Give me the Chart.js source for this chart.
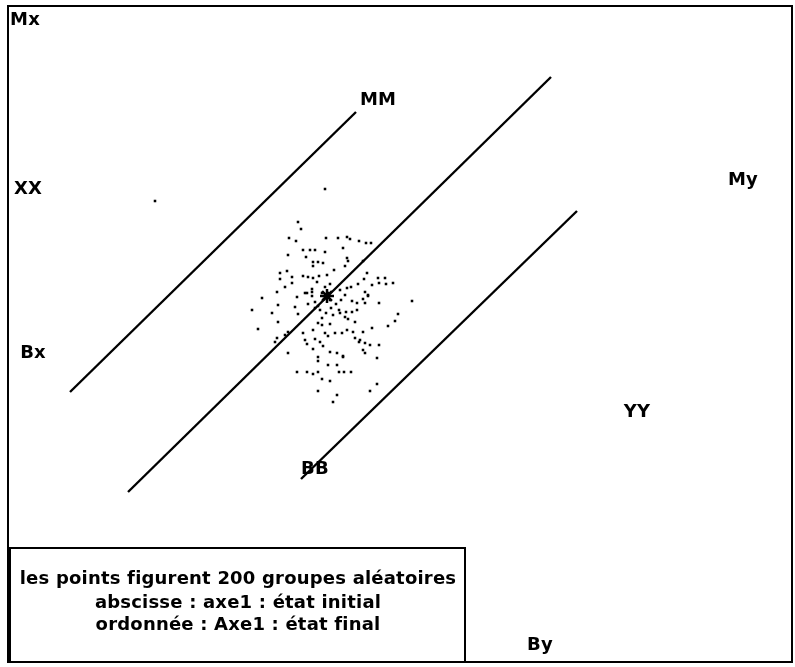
<!DOCTYPE html>
<html>
<head>
<meta charset="utf-8">
<script src="https://cdn.jsdelivr.net/npm/chart.js@4"></script>
<style>
  html, body { margin: 0; padding: 0; background: #fff; }
  #wrap { width: 795px; height: 667px; }
</style>
</head>
<body>
<div id="wrap"><canvas id="plot" width="795" height="667"></canvas></div>
<script>
// 200 random groups: axe1 initial (x) vs axe1 final (y), plot units
const ptX = [155,325,
  298,301,289,296,326,338,347,350,359,366,371,343,303,310,315,325,288,306,347,348,313,318,323,313,363,345,287,280,334,367,292,280,303,308,313,319,327,364,378,385,292,317,285,325,330,347,351,372,379,386,393,358,312,277,305,312,365,368,
  262,252,278,272,297,307,312,295,308,315,322,298,315,278,258,288,285,277,275,352,357,363,365,368,379,412,333,340,345,348,339,346,352,357,355,322,318,322,330,313,303,325,328,335,342,347,353,363,372,388,395,398,305,307,315,320,323,355,360,359,365,370,379,330,337,288,363,365,313,343,
  328,324,330,318,320,326,331,336,341,345,340,
  318,343,377,318,328,337,297,307,313,318,339,344,351,322,330,377,370,318,337,333];
const ptY = [201,189,
  222,229,238,241,238,238,237,239,241,243,243,248,250,250,250,252,255,257,258,261,262,262,263,266,261,266,271,273,270,273,277,279,276,277,278,276,275,279,278,278,283,282,287,287,284,288,287,285,283,284,283,284,289,292,293,292,292,296,
  298,310,305,313,297,293,296,307,304,302,293,314,308,322,329,332,335,338,342,301,303,299,303,295,303,301,315,313,317,319,310,312,312,310,322,318,323,325,324,330,333,333,336,333,333,330,332,332,328,326,321,314,340,344,339,342,346,338,340,342,343,345,345,352,353,353,350,353,349,356,
  293,299,300,306,310,313,308,304,300,295,290,
  357,357,358,361,365,365,372,372,374,372,372,372,372,379,381,384,391,391,395,402];

// center of the cloud
const centerX = [327];
const centerY = [296];

// reference lines (endpoints)
const lineMM = { x: [70, 356], y: [392, 112] };
const lineMid = { x: [128, 551], y: [492, 77] };
const lineBB = { x: [301, 577], y: [479, 211] };

// point labels
const labelText = ["Mx", "MM", "XX", "My", "Bx", "YY", "BB", "By"];
const labelX = [25, 378, 28, 743, 33, 637, 315, 540];
const labelY = [20, 100, 189, 180, 353, 412, 469, 645];

const noteLines = [
  "les points figurent 200 groupes aléatoires",
  "abscisse : axe1 : état initial",
  "ordonnée : Axe1 : état final"
];

const toXY = (xs, ys) => xs.map((x, i) => ({ x: x, y: ys[i] }));

function lineSet(l) {
  return {
    data: toXY(l.x, l.y),
    showLine: true,
    borderColor: "#000",
    borderWidth: 2.4,
    pointRadius: 0
  };
}

const decor = {
  id: "decor",
  beforeDraw(chart) {
    const c = chart.ctx;
    c.save();
    c.fillStyle = "#fff";
    c.fillRect(0, 0, chart.width, chart.height);
    c.restore();
  },
  afterDraw(chart) {
    const c = chart.ctx;
    const sx = chart.scales.x, sy = chart.scales.y;
    c.save();
    c.strokeStyle = "#000";
    c.lineWidth = 2;
    // outer frame
    c.strokeRect(8, 6, 784, 656);
    // note box
    c.strokeRect(10, 548, 455, 114);

    c.fillStyle = "#000";
    c.font = "bold 18px 'DejaVu Sans'";
    c.letterSpacing = "0.2px";
    c.textAlign = "center";
    c.textBaseline = "middle";
    labelText.forEach((t, i) => {
      c.fillText(t, sx.getPixelForValue(labelX[i]), sy.getPixelForValue(labelY[i]));
    });
    const noteY = [579, 603, 625];
    noteLines.forEach((t, i) => c.fillText(t, 238, noteY[i]));
    c.restore();
  }
};

new Chart(document.getElementById("plot"), {
  type: "scatter",
  data: {
    datasets: [
      {
        data: toXY(ptX, ptY),
        pointStyle: "rect",
        pointRadius: 1.8,
        backgroundColor: "#000",
        borderColor: "#000",
        borderWidth: 0
      },
      lineSet(lineMM),
      lineSet(lineMid),
      lineSet(lineBB),
      {
        data: toXY(centerX, centerY),
        pointStyle: "star",
        pointRadius: 7,
        borderColor: "#000",
        borderWidth: 2.5
      }
    ]
  },
  options: {
    responsive: false,
    animation: false,
    layout: { padding: 0, autoPadding: false },
    scales: {
      x: { type: "linear", min: 0, max: 795, display: false },
      y: { type: "linear", min: 0, max: 667, reverse: true, display: false }
    },
    plugins: {
      legend: { display: false },
      tooltip: { enabled: false }
    }
  },
  plugins: [decor]
});
</script>
</body>
</html>
